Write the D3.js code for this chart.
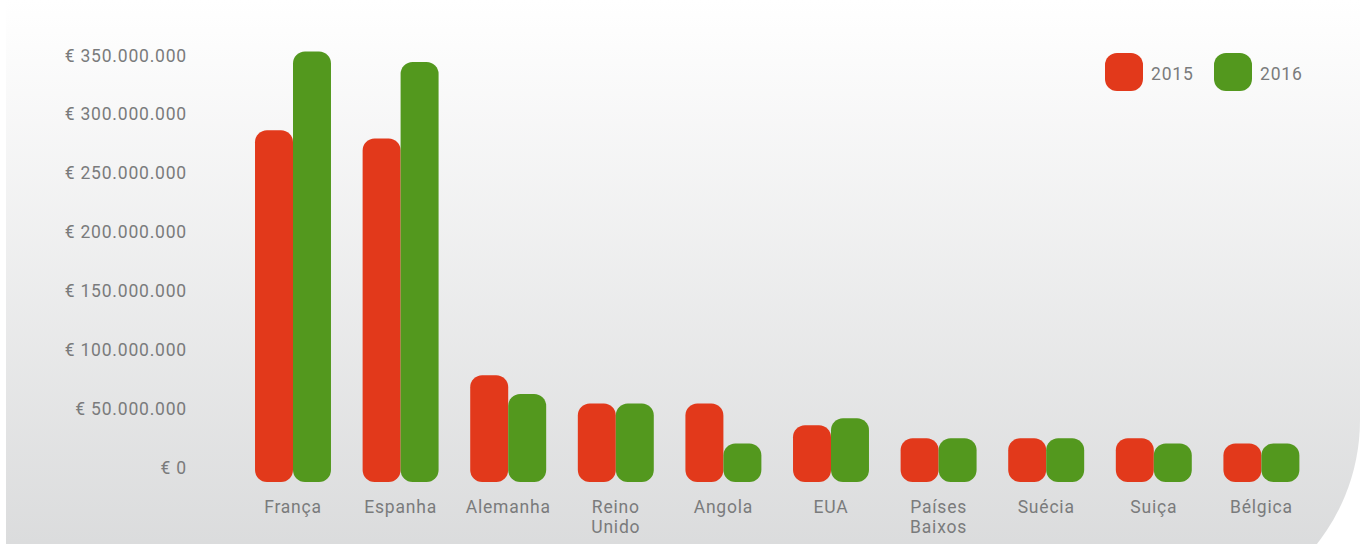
<!DOCTYPE html>
<html>
<head>
<meta charset="utf-8">
<script src="https://cdn.jsdelivr.net/npm/d3@7"></script>
<style>
  body { margin: 0; background: #fff; }
  text { font-family: Roboto, "DejaVu Sans", sans-serif; fill: #7a7b7c; letter-spacing: 0.8px; }
</style>
</head>
<body>
<script>
var width = 1360,
    height = 544;

var categories = ["França", "Espanha", "Alemanha", "Reino Unido", "Angola", "EUA", "Países Baixos", "Suécia", "Suiça", "Bélgica"];
var series = ["2015", "2016"];
var values2015 = [286000000, 279000000, 78000000, 54000000, 54000000, 35500000, 24500000, 24500000, 24500000, 20000000];
var values2016 = [353000000, 344000000, 62000000, 54000000, 20000000, 41500000, 24500000, 24500000, 20000000, 20000000];
var yTicks = [0, 50000000, 100000000, 150000000, 200000000, 250000000, 300000000, 350000000];
var colors = ["#e2391b", "#53981e"];

var data = categories.map(function(c, i) {
  return { cat: c, vals: [values2015[i], values2016[i]] };
});

var svg = d3.select("body").append("svg")
    .attr("width", width)
    .attr("height", height);

var defs = svg.append("defs");
var grad = defs.append("linearGradient")
    .attr("id", "bg")
    .attr("x1", 0).attr("y1", 0).attr("x2", 0).attr("y2", 1);
grad.append("stop").attr("offset", "0%").attr("stop-color", "#ffffff");
grad.append("stop").attr("offset", "100%").attr("stop-color", "#d6d7d8");

// panel with a big rounded corner at the bottom right
svg.append("path")
    .attr("d", "M6,0H1360V420A200,200 0 0 1 1160,620H6Z")
    .attr("fill", "url(#bg)");

var y = d3.scaleLinear()
    .domain([0, 350000000])
    .range([467, 55]);

var x0 = d3.scaleBand()
    .domain(categories)
    .range([239.2, 1315.2])
    .paddingInner(0.294)
    .paddingOuter(0.147);

var x1 = d3.scaleBand()
    .domain(series)
    .range([0, x0.bandwidth()]);

var fmt = function(v) {
  return "€ " + d3.format(",")(v).replace(/,/g, ".");
};

// y axis labels
var yAxis = d3.axisLeft(y)
    .tickValues(yTicks)
    .tickSize(0)
    .tickPadding(0)
    .tickFormat(fmt);

var ga = svg.append("g")
    .attr("transform", "translate(187,0)")
    .call(yAxis);
ga.select(".domain").remove();
ga.selectAll("text")
    .attr("font-size", 17.5)
    .attr("font-family", null)
    .attr("fill", "#7a7b7c")
    .attr("dy", "0.35em");

// bars
var g = svg.selectAll("g.grp")
    .data(data)
    .enter().append("g")
    .attr("class", "grp")
    .attr("transform", function(d) { return "translate(" + x0(d.cat) + ",0)"; });

g.selectAll("rect")
    .data(function(d) { return d.vals.map(function(v, i) { return { s: series[i], v: v, i: i }; }); })
    .enter().append("rect")
    .attr("x", function(d) { return x1(d.s); })
    .attr("y", function(d) { return y(d.v); })
    .attr("width", x1.bandwidth())
    .attr("height", function(d) { return y(0) - y(d.v) + 15; })
    .attr("rx", 12)
    .attr("fill", function(d) { return colors[d.i]; });

// category labels
var xAxis = d3.axisBottom(x0).tickSize(0).tickPadding(0);
var gx = svg.append("g")
    .attr("transform", "translate(0,507)")
    .call(xAxis);
gx.select(".domain").remove();
gx.selectAll("text")
    .attr("font-size", 17.5)
    .attr("font-family", null)
    .attr("fill", "#7a7b7c")
    .attr("y", 0)
    .attr("dy", "0.35em")
    .each(function(d) {
      var t = d3.select(this), words = d.split(" ");
      if (words.length > 1) {
        t.text(null);
        words.forEach(function(w, i) {
          t.append("tspan").attr("x", 0).attr("dy", i === 0 ? "0.35em" : 20).text(w);
        });
      }
    });

// legend
var leg = svg.selectAll("g.leg")
    .data(series)
    .enter().append("g")
    .attr("class", "leg")
    .attr("transform", function(d, i) { return "translate(" + (1105 + i * 109) + ",53)"; });

leg.append("rect")
    .attr("width", 38)
    .attr("height", 38)
    .attr("rx", 12)
    .attr("fill", function(d, i) { return colors[i]; });

leg.append("text")
    .attr("x", 46)
    .attr("y", 21)
    .attr("dy", "0.35em")
    .attr("font-size", 17.5)
    .text(function(d) { return d; });
</script>
</body>
</html>
